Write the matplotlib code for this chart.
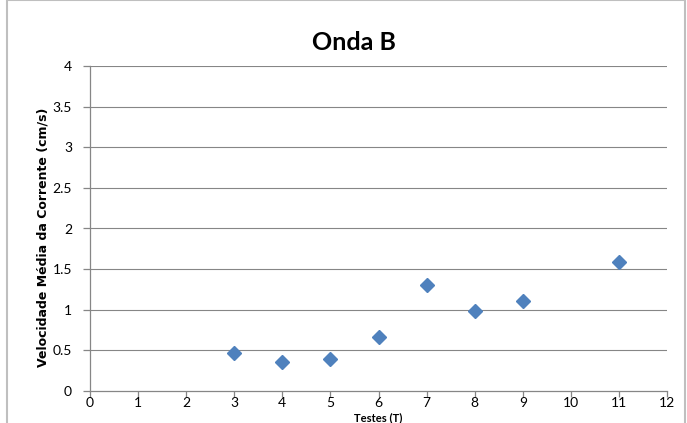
import matplotlib
matplotlib.use("Agg")
import matplotlib.pyplot as plt
from matplotlib.patches import Rectangle

testes = [3, 4, 5, 6, 7, 8, 9, 11]
velocidade = [0.47, 0.36, 0.40, 0.67, 1.30, 0.99, 1.11, 1.59]
x_ticks = list(range(0, 13))
y_ticks = [0, 0.5, 1, 1.5, 2, 2.5, 3, 3.5, 4]
y_tick_labels = ["0", "0.5", "1", "1.5", "2", "2.5", "3", "3.5", "4"]

plt.rcParams['font.family'] = ['Lato', 'DejaVu Sans']

fig = plt.figure(figsize=(6.87, 4.23), dpi=100)
ax = fig.add_axes([90/687, 1-391/423, (667-90)/687, (391-66)/423])

grid_c = '#868686'
for y in y_ticks[1:]:
    ax.axhline(y, color=grid_c, lw=0.8, zorder=1)

ax.plot(testes, velocidade, linestyle='none', marker='D', markersize=7.5,
        color='#4F81BD', markeredgecolor='#4F81BD', zorder=3, clip_on=False)

ax.set_xlim(0, 12)
ax.set_ylim(0, 4)
ax.set_xticks(x_ticks)
ax.set_yticks(y_ticks)
ax.set_yticklabels(y_tick_labels)
for s in ['top', 'right']:
    ax.spines[s].set_visible(False)
for s in ['left', 'bottom']:
    ax.spines[s].set_color(grid_c)
    ax.spines[s].set_linewidth(0.9)
ax.tick_params(axis='both', direction='out', length=5, color=grid_c, labelsize=10,
               labelcolor='black', width=0.9)
ax.tick_params(axis='y', pad=8)
ax.tick_params(axis='x', pad=0.5, length=4)

fig.text(354/687, 1-42/423, "Onda B", ha='center', va='center',
         fontsize=18, fontweight='bold')
fig.text(43/687, 1-237/423, "Velocidade Média da Corrente (cm/s)", rotation=90,
         ha='center', va='center', fontsize=9, fontweight='bold',
         family=['DejaVu Sans'])
fig.text(378/687, 0.3/423, "Testes (T)", ha='center', va='bottom',
         fontsize=8, fontweight='bold')

fig.patches.append(Rectangle((7/687, -0.05), (685-7)/687, 1.049, transform=fig.transFigure,
                             fill=False, edgecolor='#BFBFBF', lw=1.5))

fig.savefig("out.png", dpi=100)
